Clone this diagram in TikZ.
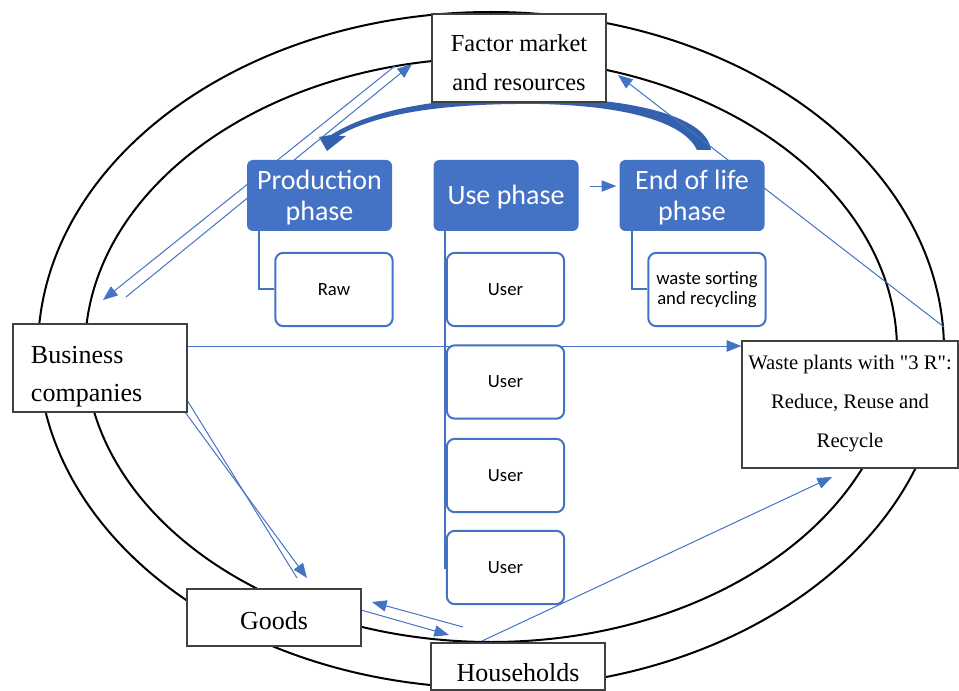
\documentclass[tikz,border=0pt]{standalone}
\usepackage{fontspec}
\setmainfont{Liberation Serif}[Ligatures=TeXOff]
\newfontfamily\calfont{Carlito}
\usetikzlibrary{arrows.meta}
\definecolor{blu}{HTML}{4472C4}
\definecolor{dblu}{HTML}{3461AD}
\definecolor{bord}{HTML}{404040}
\pgfdeclarelayer{bg}
\pgfsetlayers{bg,main}
\begin{document}
\begin{tikzpicture}[x=0.75pt,y=-0.75pt,
 ell/.style={draw=black,line width=1.5pt},
 wbox/.style={draw=bord,line width=0.9pt,fill=white,inner sep=0pt},
 txt/.style={inner sep=0pt,align=center},
 phase/.style={fill=blu,rounded corners=4.5pt,minimum width=108.75pt,minimum height=53.25pt,inner sep=0pt},
 phasetxt/.style={text=white,font=\calfont\fontsize{21}{23}\selectfont,align=center,inner sep=0pt},
 sub/.style={draw=blu,line width=1.5pt,fill=white,rounded corners=6pt,font=\calfont\fontsize{14}{15}\selectfont,minimum width=88pt,minimum height=55pt,align=center,inner sep=0pt},
 tree/.style={draw=blu,line width=1.5pt},
 flow/.style={draw=blu,line width=0.75pt,-{Triangle[length=11pt,width=8.5pt]}},
 plainflow/.style={draw=blu,line width=0.75pt}]
\useasboundingbox (0,0) rectangle (959,691);

% boxes
\node[wbox,minimum width=130.5pt,minimum height=66pt] (fac) at (519,58) {};
\node[txt,font=\fontsize{18.3}{29}\selectfont] (factxt) at (519,62.5) {Factor market\\and resources};
\node[wbox,minimum width=130.5pt,minimum height=66pt] (bus) at (100,368) {};
\node[txt,font=\fontsize{19.5}{28.5}\selectfont,align=left,text width=103.5pt] (bustxt) at (100,377) {Business\\companies};
\node[wbox,minimum width=162pt,minimum height=95.25pt] (waste) at (850,404.5) {};
\node[txt,font=\fontsize{15.5}{29}\selectfont] (wastetxt) at (850,403.5) {Waste plants with "3 R":\\Reduce, Reuse and\\Recycle};
\node[wbox,minimum width=130.5pt,minimum height=42.75pt] (goods) at (274,617.5) {};
\node[txt,font=\fontsize{19.5}{24}\selectfont] (goodstxt) at (274,621) {Goods};
\node[wbox,minimum width=130.5pt,minimum height=35.25pt] (house) at (518,666.5) {};
\node[txt,font=\fontsize{19.5}{24}\selectfont] (housetxt) at (518,673) {Households};

\node[phase] (prod) at (319.5,195.5) {};
\node[phasetxt] (prodtxt) at (319.5,197.5) {Production\\phase};
\node[phase] (use) at (506,195.5) {};
\node[phasetxt] (usetxt) at (506,197.5) {Use phase};
\node[phase] (eol) at (692,195.5) {};
\node[phasetxt] (eoltxt) at (692,197.5) {End of life\\phase};

\node[sub] (raw) at (334,289.5) {Raw};
\node[sub] (ws) at (707,289.5) {waste sorting\\and recycling};
\node[sub] (u1) at (505.5,289.5) {User};
\node[sub] (u2) at (505.5,382) {User};
\node[sub] (u3) at (505.5,475.5) {User};
\node[sub] (u4) at (505.5,567.5) {User};

% free ends of the flow lines
\coordinate (a1s) at (126,297); \coordinate (a1e) at (412,64);
\coordinate (a2s) at (395,66);  \coordinate (a2e) at (103,300);
\coordinate (b1s) at (187,400); \coordinate (b1e) at (297,578);
\coordinate (b2s) at (185,412); \coordinate (b2e) at (307,578);
\coordinate (c1s) at (463,627); \coordinate (c1e) at (372,602);
\coordinate (c2s) at (361,610); \coordinate (c2e) at (449,635);
\coordinate (ds) at (482,641);  \coordinate (de) at (832,477);
\coordinate (fs) at (944,327);  \coordinate (fe) at (618,75);

\begin{pgfonlayer}{bg}
\draw[ell] (491,350) ellipse [x radius=339.75pt, y radius=253.5pt];
\draw[ell] (491,350) ellipse [x radius=304.5pt, y radius=219pt];
% curved thick arrow
\fill[dblu] (711,150) .. controls (707,118) and (640,99) .. (540,97)
  .. controls (440,96) and (370,110) .. (331,135) -- (319,137) -- (327,151) -- (346,136) -- (338,136)
  .. controls (378,113) and (445,103) .. (540,104)
  .. controls (632,106) and (685,124) .. (697,150) -- cycle;
% thin flows
\draw[flow] (a1s) -- (a1e);
\draw[flow] (a2s) -- (a2e);
\draw[plainflow] (b1s) -- (b1e);
\draw[flow] (b2s) -- (b2e);
\draw[flow] (c1s) -- (c1e);
\draw[flow] (c2s) -- (c2e);
\draw[flow] (ds) -- (de);
\draw[flow] (fs) -- (fe);
\draw[flow] ([yshift=16.5pt]bus.east) -- ([yshift=16.5pt]bus.east -| waste.west);
\draw[flow] ([shift={(8.25pt,7.1pt)}]use.east) -- ([shift={(-2.25pt,7.1pt)}]eol.west);
% tree connectors
\draw[tree] ([xshift=9pt]prod.south west) |- (raw.west);
\draw[tree] ([xshift=9pt]use.south west) |- (u4.west);
\draw[tree] ([xshift=9.75pt]eol.south west) |- (ws.west);
\end{pgfonlayer}
\end{tikzpicture}
\end{document}
